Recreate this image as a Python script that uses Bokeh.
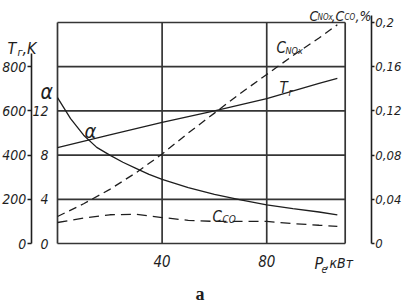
from bokeh.plotting import figure
from bokeh.models import Range1d, LinearAxis, FixedTicker, Label
from bokeh.embed import file_html
from bokeh.resources import INLINE

# ---------------- data ----------------
P_ALPHA = [0, 5, 10, 15, 20, 25, 30, 35, 40, 50, 60, 70, 80, 90, 100, 107]
ALPHA = [13.2, 11.3, 9.8, 8.7, 8.0, 7.35, 6.8, 6.25, 5.8, 5.05, 4.45, 3.95, 3.5, 3.15, 2.85, 2.6]

P_T = [0, 20, 40, 60, 80, 100, 107]
T_G = [434, 492, 548, 600, 656, 725, 747]

P_C = [0, 10, 20, 30, 40, 50, 60, 70, 80, 90, 100, 107]
C_NOX = [0.0244, 0.036, 0.049, 0.064, 0.081, 0.100, 0.118, 0.136, 0.153, 0.170, 0.186, 0.198]
C_CO = [0.019, 0.023, 0.026, 0.0265, 0.0235, 0.021, 0.020, 0.020, 0.020, 0.018, 0.0165, 0.0155]

X_TICKS = [40, 80]
X_GRID = [0, 40, 80, 110]
ALPHA_TICKS = [0, 4, 8, 12]
ALPHA_GRID = [0, 4, 8, 12, 16, 20]
T_TICKS = [0, 200, 400, 600, 800]
C_TICKS = [0, 0.04, 0.08, 0.12, 0.16, 0.2]
C_LABELS = ["0", "0,04", "0,08", "0,12", "0,16", "0,2"]

# ---------------- layout / styling ----------------
W, H = 402, 304
X0, Y0 = 57.0, 243.0          # pixel position of the origin of the box
XPX = 340.0 / 130.0           # pixels per kW
APX = 221.0 / 20.0            # pixels per alpha unit
T_PER_A = 50.0                # T scale relative to alpha scale
C_PER_A = 0.01                # C scale relative to alpha scale

INK = "#1e1e1e"
GRID = "#353535"
FONT = "Liberation Sans Narrow, DejaVu Sans Condensed, Liberation Sans, sans-serif"

xr = (-X0 / XPX, (W - X0) / XPX)
ar = (-(H - Y0) / APX, Y0 / APX)

p = figure(width=W, height=H,
           x_range=Range1d(*xr), y_range=Range1d(*ar),
           x_axis_location=None, y_axis_location=None,
           toolbar_location=None, output_backend="svg",
           min_border_left=0, min_border_right=0,
           min_border_top=0, min_border_bottom=0)
p.extra_y_ranges = {"T": Range1d(ar[0] * T_PER_A, ar[1] * T_PER_A),
                    "C": Range1d(ar[0] * C_PER_A, ar[1] * C_PER_A)}
p.outline_line_color = None
p.grid.visible = False
p.background_fill_color = "white"
p.border_fill_color = "white"


def style_axis(ax, size="15px"):
    ax.major_label_text_font = FONT
    ax.major_label_text_font_style = "italic"
    ax.major_label_text_font_size = size
    ax.major_label_text_color = INK
    ax.minor_tick_line_color = None
    ax.axis_line_color = INK
    ax.major_tick_line_color = INK
    ax.axis_line_width = 1.6
    ax.major_tick_line_width = 1.4


top_a = (Y0 - 15) / APX  # axis lines reach slightly above the box

# alpha axis (labels only, next to the box)
a_ax = LinearAxis(fixed_location=0, ticker=FixedTicker(ticks=ALPHA_TICKS))
style_axis(a_ax, "14px")
a_ax.axis_line_color = None
a_ax.major_tick_line_color = None
a_ax.major_label_standoff = 3
p.add_layout(a_ax, "left")

# temperature axis (outer left)
t_ax = LinearAxis(y_range_name="T", fixed_location=-10, bounds=(0, 860),
                  ticker=FixedTicker(ticks=T_TICKS))
style_axis(t_ax, "14px")
t_ax.major_tick_in = 0
t_ax.major_tick_out = 4
t_ax.major_label_standoff = 1
p.add_layout(t_ax, "left")

# concentration axis (outer right)
c_ax = LinearAxis(y_range_name="C", fixed_location=120, bounds=(0, top_a * C_PER_A),
                  ticker=FixedTicker(ticks=C_TICKS),
                  major_label_overrides=dict(zip(C_TICKS, C_LABELS)))
style_axis(c_ax, "13px")
c_ax.major_tick_in = 0
c_ax.major_tick_out = 3
c_ax.major_label_standoff = 1
p.add_layout(c_ax, "right")

# x axis (labels only)
x_ax = LinearAxis(fixed_location=0, ticker=FixedTicker(ticks=X_TICKS))
style_axis(x_ax, "15px")
x_ax.axis_line_color = None
x_ax.major_tick_line_color = None
x_ax.major_label_standoff = 5
p.add_layout(x_ax, "below")

# grid box
p.segment(x0=[X_GRID[0]] * len(ALPHA_GRID), x1=[X_GRID[-1]] * len(ALPHA_GRID),
          y0=ALPHA_GRID, y1=ALPHA_GRID, line_color=GRID, line_width=1.7)
p.segment(x0=X_GRID, x1=X_GRID, y0=[ALPHA_GRID[0]] * len(X_GRID),
          y1=[ALPHA_GRID[-1]] * len(X_GRID), line_color=GRID, line_width=1.7)

# curves
p.line(P_ALPHA, ALPHA, line_color=INK, line_width=1.3)
p.line(P_T, T_G, y_range_name="T", line_color=INK, line_width=1.3)
p.line(P_C, C_NOX, y_range_name="C", line_color=INK, line_width=1.3, line_dash="8 5")
p.line(P_C, C_CO, y_range_name="C", line_color=INK, line_width=1.3, line_dash="10 6")


# text labels positioned in page pixels
def lab(text, px, py, size, style="italic", font=FONT, align="left"):
    p.add_layout(Label(x=(px - X0) / XPX, y=(Y0 - py) / APX, text=text,
                       text_font=font, text_font_size=f"{size}px",
                       text_font_style=style, text_color=INK,
                       text_align=align, text_baseline="alphabetic"))


lab("T", 7, 48, 16)
lab("г", 17, 52, 11)
lab(",K", 22, 48, 16)
lab("α", 40, 91, 21)
lab("α", 84, 130, 20)
lab("T", 279, 87, 15)
lab("г", 288, 92, 10)
lab("C", 276, 47, 15)
lab("NOx", 285, 50, 9)
lab("C", 212, 216, 15)
lab("CO", 222, 219, 10)
lab("C", 309, 15, 14)
lab("NOx", 317, 17, 8)
lab(",", 331, 15, 14)
lab("C", 335, 15, 14)
lab("CO", 344, 17, 8)
lab(",%", 355, 15, 14)
lab("P", 314, 263, 16)
lab("e", 321, 268, 10)
lab(",кВт", 325, 262, 14)
lab("a", 195, 293, 18, style="bold", font="Liberation Serif")

open("out.html", "w").write(file_html(p, INLINE))
